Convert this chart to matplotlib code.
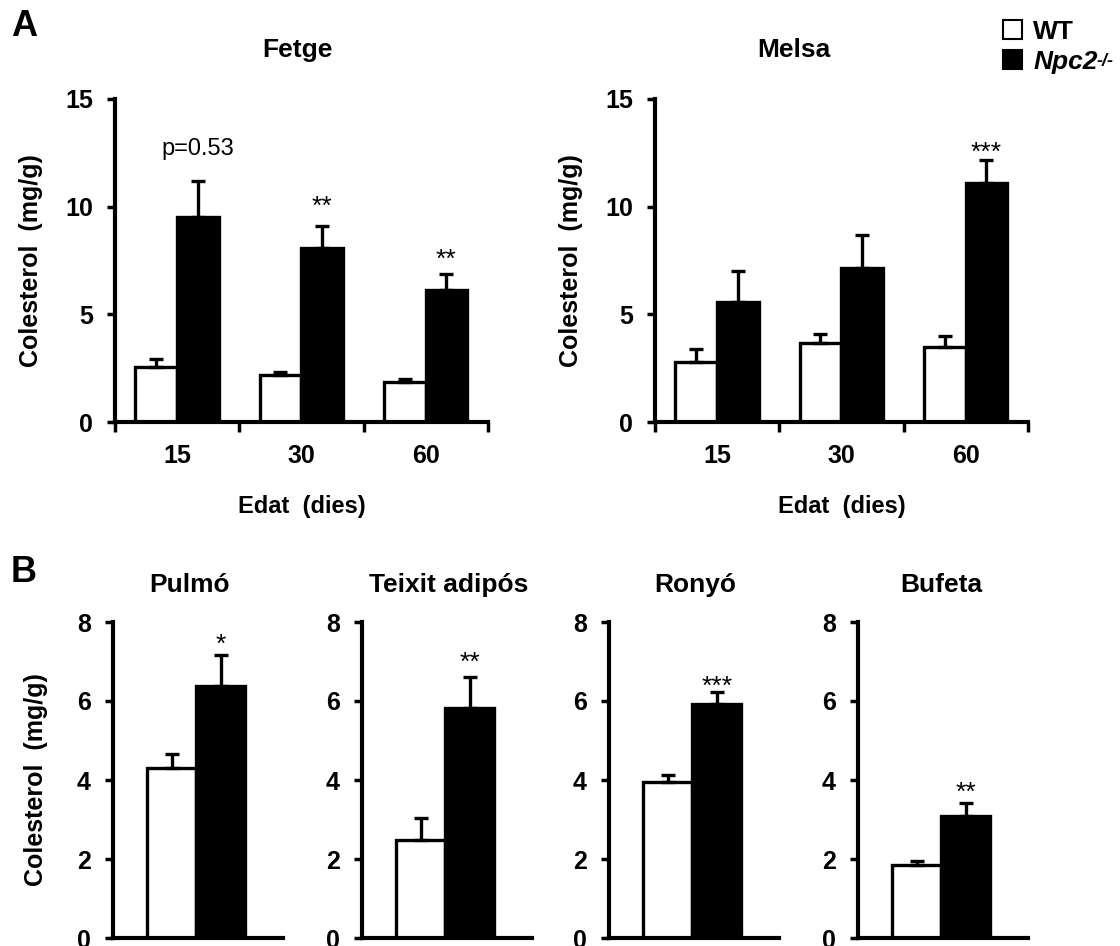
import matplotlib
matplotlib.use("Agg")
import matplotlib.pyplot as plt
import numpy as np
from matplotlib.patches import Patch

plt.rcParams['font.family'] = ['Liberation Sans', 'DejaVu Sans']

# --- data (mg/g cholesterol) ---
ages = ['15', '30', '60']

fetge_wt = [2.54, 2.18, 1.87]
fetge_wt_err = [0.37, 0.16, 0.11]
fetge_ko = [9.54, 8.07, 6.13]
fetge_ko_err = [1.67, 1.05, 0.74]
fetge_marks = ['p=0.53', '**', '**']
fetge_mark_y = [12.7, 10.4, 7.9]

melsa_wt = [2.80, 3.65, 3.50]
melsa_wt_err = [0.58, 0.44, 0.50]
melsa_ko = [5.59, 7.14, 11.09]
melsa_ko_err = [1.44, 1.55, 1.08]
melsa_marks = ['', '', '***']
melsa_mark_y = [0, 0, 12.9]

organs = ['Pulmó', 'Teixit adipós', 'Ronyó', 'Bufeta']
organ_wt = [4.30, 2.47, 3.96, 1.84]
organ_wt_err = [0.37, 0.57, 0.16, 0.12]
organ_ko = [6.37, 5.82, 5.92, 3.10]
organ_ko_err = [0.80, 0.79, 0.30, 0.32]
organ_marks = ['*', '**', '***', '**']
organ_mark_y = [7.64, 7.17, 6.58, 3.88]

FS = 18      # tick labels
FT = 19      # titles / legend
W, H = 1120, 946


def px_axes(fig, left, top, width, height):
    # place an axes from pixel geometry of the reference
    return fig.add_axes([left / W, 1 - (top + height) / H, width / W, height / H])


def style(ax, ymax, yticks):
    for s in ['top', 'right']:
        ax.spines[s].set_visible(False)
    for s in ['left', 'bottom']:
        ax.spines[s].set_linewidth(3)
    ax.set_ylim(0, ymax)
    ax.set_yticks(yticks)
    ax.tick_params(axis='y', length=6, width=2.5, pad=10, labelsize=FS)
    for lab in ax.get_yticklabels():
        lab.set_fontweight('bold')


def bars(ax, x_wt, x_ko, width, wt, wt_err, ko, ko_err):
    ax.bar(x_wt, wt, width, color='white', edgecolor='black', linewidth=2.4, zorder=2)
    ax.bar(x_ko, ko, width, color='black', edgecolor='black', linewidth=2.4, zorder=2)
    for x, m, e in [(x_wt, wt, wt_err), (x_ko, ko, ko_err)]:
        m = np.atleast_1d(m)
        e = np.atleast_1d(e)
        ax.errorbar(x, m, yerr=[np.zeros_like(e), e], fmt='none', ecolor='black',
                    elinewidth=2.4, capsize=4.7, capthick=2.4, zorder=3)


def marks(ax, xs, texts, ys):
    for x, t, y in zip(xs, texts, ys):
        if not t:
            continue
        if t.startswith('p'):
            ax.text(x, y, t, ha='center', va='center', fontsize=17)
        else:
            ax.annotate(t, (x, y), xytext=(0, -6), textcoords='offset points',
                        ha='center', va='center', fontsize=19)


fig = plt.figure(figsize=(W / 100, H / 100), dpi=100)

# ---------------- panel A ----------------
xa = np.arange(len(ages))
for left, title, tx, wt, wte, ko, koe, mk, mky in [
        (115, 'Fetge', 0.49, fetge_wt, fetge_wt_err, fetge_ko, fetge_ko_err, fetge_marks, fetge_mark_y),
        (655, 'Melsa', 0.373, melsa_wt, melsa_wt_err, melsa_ko, melsa_ko_err, melsa_marks, melsa_mark_y)]:
    ax = px_axes(fig, left, 99, 373, 323)
    style(ax, 15, [0, 5, 10, 15])
    bars(ax, xa - 0.17, xa + 0.165, 0.335, wt, wte, ko, koe)
    marks(ax, xa + 0.165, mk, mky)
    ax.set_xlim(-0.5, len(ages) - 0.5)
    ax.set_xticks(xa)
    ax.set_xticklabels(ages, fontsize=FS, fontweight='bold')
    ax.set_xticks(np.arange(len(ages) + 1) - 0.5, minor=True)
    ax.tick_params(axis='x', which='major', length=0, pad=16)
    ax.tick_params(axis='x', which='minor', length=7, width=2.5)
    ax.set_xlabel('Edat  (dies)', fontsize=17, fontweight='bold')
    ax.xaxis.set_label_coords(0.5, -0.226)
    ax.set_ylabel('Colesterol  (mg/g)', fontsize=18, fontweight='bold')
    ax.yaxis.set_label_coords(-0.193, 0.5)
    ax.text(tx, 1.152, title, transform=ax.transAxes, ha='center', va='center',
            fontsize=FT, fontweight='bold')

# ---------------- panel B ----------------
b_lefts = [113, 362, 609, 858]
b_title_x = [0.45, 0.51, 0.51, 0.49]
for i, organ in enumerate(organs):
    ax = px_axes(fig, b_lefts[i], 622, 170, 316)
    style(ax, 8, [0, 2, 4, 6, 8])
    bars(ax, 0.346, 0.634, 0.288, organ_wt[i], organ_wt_err[i], organ_ko[i], organ_ko_err[i])
    marks(ax, [0.634], [organ_marks[i]], [organ_mark_y[i]])
    ax.set_xlim(0, 1)
    ax.set_xticks([])
    ax.text(b_title_x[i], 1.117, organ, transform=ax.transAxes, ha='center', va='center',
            fontsize=FT, fontweight='bold')
    if i == 0:
        ax.set_ylabel('Colesterol  (mg/g)', fontsize=18, fontweight='bold')
        ax.yaxis.set_label_coords(-0.385, 0.5)

# panel letters
fig.text(11 / W, 1 - 27 / H, 'A', fontsize=26, fontweight='bold', va='center', ha='left')
fig.text(11 / W, 1 - 572 / H, 'B', fontsize=26, fontweight='bold', va='center', ha='left')

# legend
handles = [Patch(facecolor='white', edgecolor='black', linewidth=1.5),
           Patch(facecolor='black', edgecolor='black', linewidth=1.5)]
leg = fig.legend(handles, ['WT', 'Npc2'], loc='upper left',
                 bbox_to_anchor=(1003 / W, 1 - 20 / H), frameon=False,
                 fontsize=FT, handlelength=0.72, handleheight=0.72,
                 handletextpad=0.42, labelspacing=0.22, borderpad=0, borderaxespad=0)
for t in leg.get_texts():
    t.set_fontweight('bold')
leg.get_texts()[1].set_style('italic')
fig.canvas.draw()
bb = leg.get_texts()[1].get_window_extent()
fig.text((bb.x1 - 1) / W, (bb.y1 - 3) / H, '-/-', fontsize=13, fontweight='bold',
         style='italic', va='top', ha='left')

fig.savefig('out.png', dpi=100)
